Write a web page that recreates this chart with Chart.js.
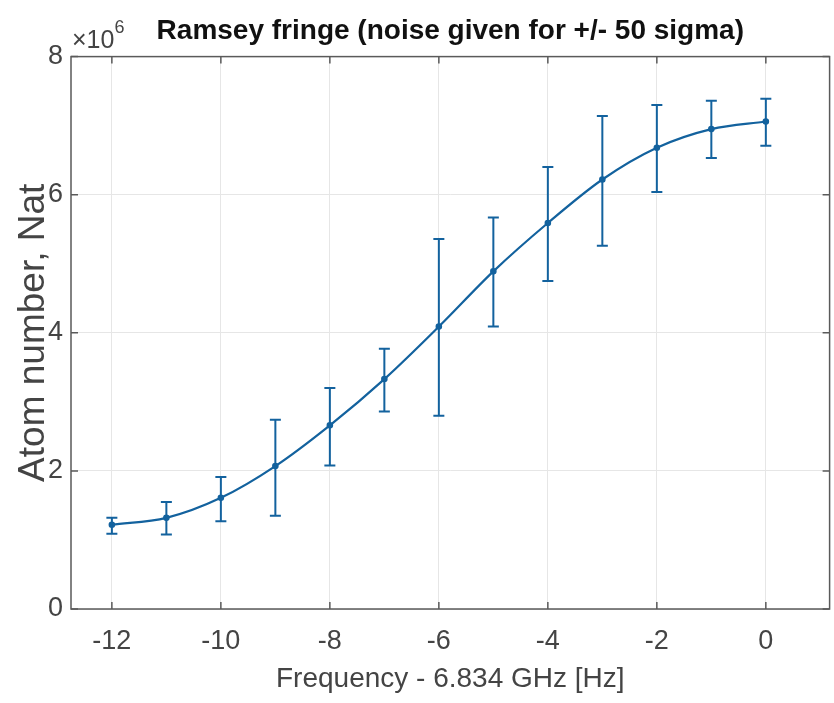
<!DOCTYPE html>
<html>
<head>
<meta charset="utf-8">
<script src="https://cdn.jsdelivr.net/npm/chart.js@4.4.1/dist/chart.umd.min.js"></script>
<style>
  html, body { margin: 0; padding: 0; background: #fff; }
  canvas { display: block; }
</style>
</head>
<body>
<canvas id="myChart" width="834" height="703"></canvas>
<script>
// frequency offsets (Hz)
var freqs = [-12, -11, -10, -9, -8, -7, -6, -5, -4, -3, -2, -1, 0];
// atom number, in units of 1e6
var atoms = [1.22, 1.32, 1.61, 2.07, 2.66, 3.33, 4.09, 4.89, 5.59, 6.22, 6.68, 6.95, 7.06];
var atomsLow = [1.09, 1.08, 1.27, 1.35, 2.08, 2.86, 2.80, 4.09, 4.75, 5.26, 6.04, 6.53, 6.71];
var atomsHigh = [1.32, 1.55, 1.91, 2.74, 3.20, 3.77, 5.36, 5.67, 6.40, 7.14, 7.30, 7.36, 7.39];

var xTicks = [-12, -10, -8, -6, -4, -2, 0];
var yTicks = [0, 2, 4, 6, 8];

var blue = '#13629e';
var sans = "'Liberation Sans', Arial, sans-serif";

var errorBars = {
    id: 'errorBars',
    afterDatasetsDraw: function(chart) {
        var ctx = chart.ctx, x = chart.scales.x, y = chart.scales.y;
        ctx.save();
        ctx.strokeStyle = blue;
        ctx.lineWidth = 2;
        freqs.forEach(function(f, i) {
            var px = x.getPixelForValue(f);
            var top = y.getPixelForValue(atomsHigh[i]);
            var bot = y.getPixelForValue(atomsLow[i]);
            ctx.beginPath();
            ctx.moveTo(px, top); ctx.lineTo(px, bot);
            ctx.moveTo(px - 5.5, top); ctx.lineTo(px + 5.5, top);
            ctx.moveTo(px - 5.5, bot); ctx.lineTo(px + 5.5, bot);
            ctx.stroke();
        });
        ctx.restore();
    }
};

// matlab style box with inward ticks and the x10^6 exponent
var axesBox = {
    id: 'axesBox',
    afterDraw: function(chart) {
        var ctx = chart.ctx, a = chart.chartArea, x = chart.scales.x, y = chart.scales.y;
        ctx.save();
        ctx.strokeStyle = '#5a5a5a';
        ctx.lineWidth = 1.5;
        ctx.strokeRect(a.left, a.top, a.right - a.left, a.bottom - a.top);
        ctx.beginPath();
        xTicks.forEach(function(v) {
            var px = x.getPixelForValue(v);
            ctx.moveTo(px, a.bottom); ctx.lineTo(px, a.bottom - 7);
            ctx.moveTo(px, a.top); ctx.lineTo(px, a.top + 7);
        });
        yTicks.forEach(function(v) {
            var py = y.getPixelForValue(v);
            ctx.moveTo(a.left, py); ctx.lineTo(a.left + 7, py);
            ctx.moveTo(a.right, py); ctx.lineTo(a.right - 7, py);
        });
        ctx.stroke();

        ctx.fillStyle = '#444';
        ctx.textBaseline = 'alphabetic';
        ctx.textAlign = 'left';
        ctx.font = '25px ' + sans;
        ctx.fillText('\u00d710', a.left + 1, a.top - 9);
        var w = ctx.measureText('\u00d710').width;
        ctx.font = '18px ' + sans;
        ctx.fillText('6', a.left + 1 + w, a.top - 24);
        ctx.restore();
    }
};

var ctx = document.getElementById('myChart').getContext('2d');

var myChart = new Chart(ctx, {
    type: 'line',
    data: {
        datasets: [{
            data: freqs.map(function(f, i) { return { x: f, y: atoms[i] }; }),
            borderColor: blue,
            backgroundColor: blue,
            borderWidth: 2.2,
            pointRadius: 2.2,
            pointHoverRadius: 2.2,
            cubicInterpolationMode: 'monotone',
            fill: false
        }]
    },
    options: {
        responsive: false,
        animation: false,
        layout: { padding: { left: 0, right: 3, top: 0, bottom: 0 } },
        plugins: {
            legend: { display: false },
            tooltip: { enabled: false },
            title: {
                display: true,
                fullSize: false,
                text: 'Ramsey fringe (noise given for +/- 50 sigma)',
                color: '#111',
                font: { family: sans, size: 28, weight: 'bold' },
                padding: { top: 14, bottom: 9 }
            }
        },
        scales: {
            x: {
                type: 'linear',
                min: -12.75,
                max: 1.17,
                afterBuildTicks: function(axis) {
                    axis.ticks = xTicks.map(function(v) { return { value: v }; });
                },
                afterFit: function(axis) { axis.height = 94; },
                grid: { color: '#e6e6e6', lineWidth: 1, drawTicks: false },
                border: { display: false },
                ticks: {
                    color: '#444',
                    padding: 16,
                    maxRotation: 0,
                    font: { family: sans, size: 27 }
                },
                title: {
                    display: true,
                    text: 'Frequency - 6.834 GHz [Hz]',
                    color: '#444',
                    font: { family: sans, size: 28 },
                    padding: { top: 4, bottom: 7 }
                }
            },
            y: {
                min: 0,
                max: 8,
                afterBuildTicks: function(axis) {
                    axis.ticks = yTicks.map(function(v) { return { value: v }; });
                },
                afterFit: function(axis) { axis.width = 71; },
                grid: { color: '#e6e6e6', lineWidth: 1, drawTicks: false },
                border: { display: false },
                ticks: {
                    color: '#444',
                    padding: 8,
                    font: { family: sans, size: 27 }
                },
                title: {
                    display: true,
                    text: 'Atom number, Nat',
                    color: '#444',
                    font: { family: sans, size: 37 },
                    padding: { top: 12, bottom: 0 }
                }
            }
        }
    },
    plugins: [errorBars, axesBox]
});
</script>
</body>
</html>
